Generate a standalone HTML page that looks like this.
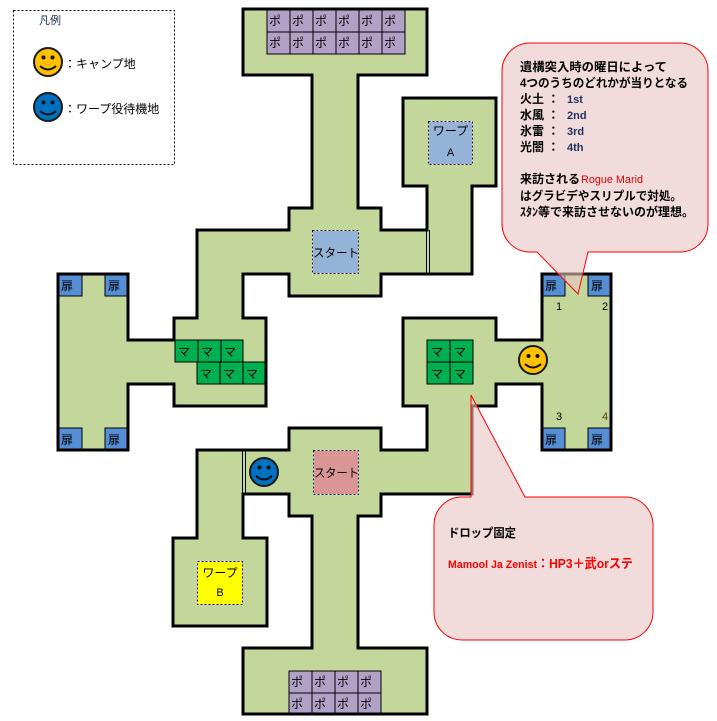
<!DOCTYPE html>
<html><head><meta charset="utf-8"><style>
html,body{margin:0;padding:0;background:#fff;}
svg{display:block;}
text{font-family:"Liberation Sans","Noto Sans CJK JP",sans-serif;}
.j{font-family:"Liberation Sans","Noto Sans CJK JP",sans-serif;font-size:12px;fill:#000;}
.b{font-weight:bold;}
</style></head><body>
<svg width="717" height="721" viewBox="0 0 717 721" xmlns="http://www.w3.org/2000/svg">
<!-- Legend -->
<rect x="13.5" y="10.5" width="161" height="154" fill="none" stroke="#000" stroke-width="1" stroke-dasharray="2,2"/>
<text x="39" y="24" class="j" style="font-size:11px;fill:#1a2a44">凡例</text>
<g>
<circle cx="48" cy="62" r="14" fill="#ffc000" stroke="#1a1a1a" stroke-width="2"/>
<circle cx="43.5" cy="57.5" r="2" fill="#111"/><circle cx="52.5" cy="57.5" r="2" fill="#111"/>
<path d="M40,66 Q48,73 56,66" fill="none" stroke="#111" stroke-width="2"/>
</g>
<text x="64" y="68" class="j">：キャンプ地</text>
<g>
<circle cx="48" cy="107" r="14" fill="#0070c0" stroke="#1a1a1a" stroke-width="2"/>
<circle cx="43.5" cy="102.5" r="2" fill="#111"/><circle cx="52.5" cy="102.5" r="2" fill="#111"/>
<path d="M40,111 Q48,118 56,111" fill="none" stroke="#111" stroke-width="2"/>
</g>
<text x="64" y="113" class="j">：ワープ役待機地</text>

<!-- Map component A -->
<path d="M243,9 L427,9 L427,75 L358,75 L358,208 L381,208 L381,230 L427,230 L427,186 L403,186 L403,98 L496,98 L496,186 L472,186 L472,274 L381,274 L381,296 L289,296 L289,274 L243,274 L243,318 L266,318 L266,406 L174,406 L174,384 L128,384 L128,450 L58,450 L58,274 L128,274 L128,340 L174,340 L174,318 L197,318 L197,230 L289,230 L289,208 L312,208 L312,75 L243,75 Z" fill="#c4d79b"/>
<!-- Map component B -->
<path d="M403,318 L496,318 L496,340 L542,340 L542,274 L611,274 L611,450 L542,450 L542,384 L496,384 L496,406 L472,406 L472,494 L381,494 L381,516 L358,516 L358,648 L427,648 L427,714 L243,714 L243,648 L312,648 L312,516 L289,516 L289,494 L243,494 L243,538 L267,538 L267,626 L173,626 L173,538 L197,538 L197,450 L289,450 L289,428 L381,428 L381,450 L427,450 L427,406 L403,406 Z" fill="#c4d79b"/>

<!-- Top ポ grid -->
<g stroke="#000" stroke-width="1" fill="#b2a1c7">
<rect x="267" y="9" width="23" height="23"/><rect x="290" y="9" width="23" height="23"/><rect x="313" y="9" width="23" height="23"/><rect x="336" y="9" width="23" height="23"/><rect x="359" y="9" width="23" height="23"/><rect x="382" y="9" width="23" height="23"/>
<rect x="267" y="32" width="23" height="22"/><rect x="290" y="32" width="23" height="22"/><rect x="313" y="32" width="23" height="22"/><rect x="336" y="32" width="23" height="22"/><rect x="359" y="32" width="23" height="22"/><rect x="382" y="32" width="23" height="22"/>
</g>
<text x="269" y="25" class="j">ポ</text><text x="292" y="25" class="j">ポ</text><text x="315" y="25" class="j">ポ</text><text x="338" y="25" class="j">ポ</text><text x="361" y="25" class="j">ポ</text><text x="384" y="25" class="j">ポ</text>
<text x="269" y="47" class="j">ポ</text><text x="292" y="47" class="j">ポ</text><text x="315" y="47" class="j">ポ</text><text x="338" y="47" class="j">ポ</text><text x="361" y="47" class="j">ポ</text><text x="384" y="47" class="j">ポ</text>
<!-- Bottom ポ grid -->
<g stroke="#000" stroke-width="1" fill="#b2a1c7">
<rect x="289" y="671" width="23" height="22"/><rect x="312" y="671" width="23" height="22"/><rect x="335" y="671" width="23" height="22"/><rect x="358" y="671" width="23" height="22"/>
<rect x="289" y="693" width="23" height="21"/><rect x="312" y="693" width="23" height="21"/><rect x="335" y="693" width="23" height="21"/><rect x="358" y="693" width="23" height="21"/>
</g>
<text x="291" y="686" class="j">ポ</text><text x="314" y="686" class="j">ポ</text><text x="337" y="686" class="j">ポ</text><text x="360" y="686" class="j">ポ</text>
<text x="291" y="708" class="j">ポ</text><text x="314" y="708" class="j">ポ</text><text x="337" y="708" class="j">ポ</text><text x="360" y="708" class="j">ポ</text>

<!-- マ cells -->
<g stroke="#000" stroke-width="1" fill="#00b050">
<rect x="175" y="340" width="23" height="22"/><rect x="198" y="340" width="23" height="22"/><rect x="221" y="340" width="22" height="22"/>
<rect x="197" y="362" width="23" height="22"/><rect x="220" y="362" width="23" height="22"/><rect x="243" y="362" width="23" height="22"/>
<rect x="427" y="340" width="23" height="22"/><rect x="450" y="340" width="23" height="22"/>
<rect x="427" y="362" width="23" height="22"/><rect x="450" y="362" width="23" height="22"/>
</g>
<text x="178" y="356" class="j">マ</text><text x="201" y="356" class="j">マ</text><text x="224" y="356" class="j">マ</text>
<text x="200" y="378" class="j">マ</text><text x="223" y="378" class="j">マ</text><text x="246" y="378" class="j">マ</text>
<text x="431" y="356" class="j">マ</text><text x="454" y="356" class="j">マ</text>
<text x="431" y="378" class="j">マ</text><text x="454" y="378" class="j">マ</text>

<!-- 扉 doors -->
<g stroke="#000" stroke-width="1" fill="#558ed5">
<rect x="58" y="274" width="24" height="22"/><rect x="105" y="274" width="23" height="22"/>
<rect x="58" y="428" width="24" height="22"/><rect x="105" y="428" width="23" height="22"/>
<rect x="542" y="274" width="23" height="22"/><rect x="588" y="274" width="23" height="22"/>
<rect x="542" y="428" width="23" height="22"/><rect x="588" y="428" width="23" height="22"/>
</g>
<text x="61" y="290" class="j">扉</text><text x="108" y="290" class="j">扉</text>
<text x="61" y="444" class="j">扉</text><text x="108" y="444" class="j">扉</text>
<text x="545" y="290" class="j">扉</text><text x="591" y="290" class="j">扉</text>
<text x="545" y="444" class="j">扉</text><text x="591" y="444" class="j">扉</text>

<!-- walls -->
<path d="M243,9 L427,9 L427,75 L358,75 L358,208 L381,208 L381,230 L427,230 L427,186 L403,186 L403,98 L496,98 L496,186 L472,186 L472,274 L381,274 L381,296 L289,296 L289,274 L243,274 L243,318 L266,318 L266,406 L174,406 L174,384 L128,384 L128,450 L58,450 L58,274 L128,274 L128,340 L174,340 L174,318 L197,318 L197,230 L289,230 L289,208 L312,208 L312,75 L243,75 Z" fill="none" stroke="#000" stroke-width="3"/>
<path d="M403,318 L496,318 L496,340 L542,340 L542,274 L611,274 L611,450 L542,450 L542,384 L496,384 L496,406 L472,406 L472,494 L381,494 L381,516 L358,516 L358,648 L427,648 L427,714 L243,714 L243,648 L312,648 L312,516 L289,516 L289,494 L243,494 L243,538 L267,538 L267,626 L173,626 L173,538 L197,538 L197,450 L289,450 L289,428 L381,428 L381,450 L427,450 L427,406 L403,406 Z" fill="none" stroke="#000" stroke-width="3"/>
<!-- double lines -->
<line x1="426.5" y1="230" x2="426.5" y2="274" stroke="#000" stroke-width="1"/>
<line x1="429.5" y1="230" x2="429.5" y2="274" stroke="#000" stroke-width="1"/>
<line x1="242.5" y1="450" x2="242.5" y2="494" stroke="#000" stroke-width="1"/>
<line x1="245.5" y1="450" x2="245.5" y2="494" stroke="#000" stroke-width="1"/>

<!-- dashed boxes -->
<g stroke-width="1">
<rect x="312.5" y="230.5" width="46" height="43" fill="#95b3d7" stroke="#fff"/>
<rect x="312.5" y="230.5" width="46" height="43" fill="none" stroke="#000" stroke-dasharray="2,2"/>
<rect x="428.5" y="121.5" width="44" height="43" fill="#95b3d7" stroke="#fff"/>
<rect x="428.5" y="121.5" width="44" height="43" fill="none" stroke="#000" stroke-dasharray="2,2"/>
<rect x="313.5" y="450.5" width="45" height="44" fill="#da9694" stroke="#fff"/>
<rect x="313.5" y="450.5" width="45" height="44" fill="none" stroke="#000" stroke-dasharray="2,2"/>
<rect x="197.5" y="561.5" width="45" height="43" fill="#ffff00" stroke="#fff"/>
<rect x="197.5" y="561.5" width="45" height="43" fill="none" stroke="#000" stroke-dasharray="2,2"/>
</g>
<text x="313" y="257" class="j" textLength="46" lengthAdjust="spacingAndGlyphs">スタート</text>
<text x="314" y="477" class="j" textLength="45" lengthAdjust="spacingAndGlyphs">スタート</text>
<text x="450.5" y="135" class="j" text-anchor="middle">ワープ</text>
<text x="450.5" y="156" class="j" text-anchor="middle" style="font-size:11px">A</text>
<text x="220" y="577" class="j" text-anchor="middle">ワープ</text>
<text x="220" y="596" class="j" text-anchor="middle" style="font-size:11px">B</text>

<!-- numbers -->
<text x="556" y="310" class="j" style="font-size:11px">1</text>
<text x="602" y="310" class="j" style="font-size:11px">2</text>
<text x="556" y="420" class="j" style="font-size:11px">3</text>
<text x="602" y="420" class="j" style="font-size:11px;fill:#5a3a10">4</text>

<!-- smileys on map -->
<g>
<circle cx="533" cy="360" r="14" fill="#ffc000" stroke="#1a1a1a" stroke-width="2"/>
<circle cx="528.5" cy="356" r="2" fill="#111"/><circle cx="537.5" cy="356" r="2" fill="#111"/>
<path d="M525,364 Q533,371 541,364" fill="none" stroke="#111" stroke-width="2"/>
</g>
<g>
<circle cx="264" cy="472" r="14" fill="#0070c0" stroke="#1a1a1a" stroke-width="2"/>
<circle cx="259.5" cy="467.5" r="2" fill="#111"/><circle cx="268.5" cy="467.5" r="2" fill="#111"/>
<path d="M256,476 Q264,483 272,476" fill="none" stroke="#111" stroke-width="2"/>
</g>

<!-- Top callout -->
<path d="M530,43 H680 A28,28 0 0 1 708,71 V224 A28,28 0 0 1 680,252 H588 L578,294 L537,252 H530 A28,28 0 0 1 502,224 V71 A28,28 0 0 1 530,43 Z" fill="rgb(233,197,195)" fill-opacity="0.6" stroke="#ff0000" stroke-width="1"/>
<text x="520" y="71" class="j b" textLength="147" lengthAdjust="spacingAndGlyphs">遺構突入時の曜日によって</text>
<text x="520" y="87" class="j b" textLength="168" lengthAdjust="spacingAndGlyphs">4つのうちのどれかが当りとなる</text>
<text x="520" y="103" class="j b">火土 ：</text>
<text x="520" y="119" class="j b">水風 ：</text>
<text x="520" y="135" class="j b">氷雷 ：</text>
<text x="520" y="151" class="j b">光闇 ：</text>
<text x="520" y="183" class="j b">来訪される</text>
<text x="520" y="200" class="j b" textLength="162" lengthAdjust="spacingAndGlyphs">はグラビデやスリプルで対処。</text>
<text x="520" y="216" class="j b" textLength="174" lengthAdjust="spacingAndGlyphs">ｽﾀﾝ等で来訪させないのが理想。</text>
<text x="567" y="103" style="font-size:11px;font-weight:bold;fill:#1f2f5f">1st</text>
<text x="567" y="119" style="font-size:11px;font-weight:bold;fill:#1f2f5f">2nd</text>
<text x="567" y="135" style="font-size:11px;font-weight:bold;fill:#1f2f5f">3rd</text>
<text x="567" y="151" style="font-size:11px;font-weight:bold;fill:#1f2f5f">4th</text>
<text x="581" y="183" style="font-size:11px;fill:#e00000" textLength="62" lengthAdjust="spacingAndGlyphs">Rogue Marid</text>

<!-- Bottom callout -->
<path d="M462,497 H471 L471,395 L525,497 H625 A28,28 0 0 1 653,525 V612 A28,28 0 0 1 625,640 H462 A28,28 0 0 1 434,612 V525 A28,28 0 0 1 462,497 Z" fill="rgb(233,197,195)" fill-opacity="0.6" stroke="#ff0000" stroke-width="1"/>
<text x="448" y="537" class="j" style="font-weight:bold" textLength="68" lengthAdjust="spacingAndGlyphs">ドロップ固定</text>
<text x="448" y="568" style="font-size:11px;font-weight:bold;fill:#ff0000" textLength="89" lengthAdjust="spacingAndGlyphs">Mamool Ja Zenist</text>
<text x="537" y="568" style="font-size:13px;font-weight:bold;fill:#ff0000" textLength="96" lengthAdjust="spacingAndGlyphs">：HP3＋武orステ</text>
</svg>
</body></html>
